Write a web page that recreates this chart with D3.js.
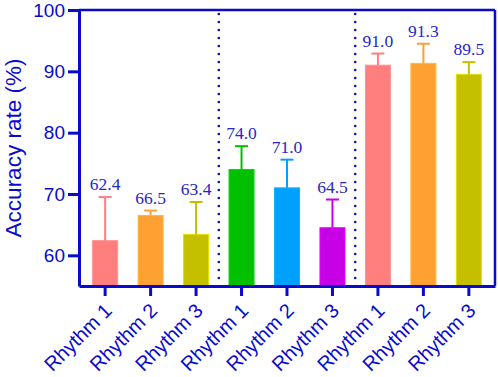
<!DOCTYPE html>
<html><head><meta charset="utf-8">
<script src="https://cdn.jsdelivr.net/npm/d3@7"></script>
<style>body{margin:0;background:#fff}svg{display:block}</style>
</head><body>
<script>
const categories = ["Rhythm 1","Rhythm 2","Rhythm 3","Rhythm 1","Rhythm 2","Rhythm 3","Rhythm 1","Rhythm 2","Rhythm 3"];
const values = [62.4, 66.5, 63.4, 74.0, 71.0, 64.5, 91.0, 91.3, 89.5];
const errors = [7.1, 0.8, 5.3, 3.8, 4.6, 4.6, 1.9, 3.2, 2.0];
const colors = ["#FF7F7F","#FFA033","#C4C000","#00C000","#00A0FF","#C800E6","#FF7F7F","#FFA033","#C4C000"];
const yTicks = [60, 70, 80, 90, 100];
const separatorsAfter = [2, 5];

const W = 498, H = 377;
const m = {l: 79, r: 3, t: 10, b: 91};
const axisColor = "#0A0ACC";
const svg = d3.select("body").append("svg").attr("width", W).attr("height", H);

const idx = d3.range(values.length);
const x = d3.scaleBand().domain(idx).range([m.l, W - m.r]).paddingInner(0.45).paddingOuter(0.3);
const y = d3.scaleLinear().domain([55, 100]).range([H - m.b, m.t]);

// bars
svg.append("g").selectAll("rect").data(idx).join("rect")
  .attr("x", i => x(i)).attr("width", x.bandwidth())
  .attr("y", i => y(values[i])).attr("height", i => y(55) - y(values[i]))
  .attr("fill", i => colors[i])
  .attr("stroke", i => d3.color(colors[i]).brighter(0.4)).attr("stroke-width", 1);

// error bars
const eb = svg.append("g");
idx.forEach(i => {
  const cx = x(i) + x.bandwidth() / 2;
  eb.append("line").attr("x1", cx).attr("x2", cx)
    .attr("y1", y(values[i])).attr("y2", y(values[i] + errors[i]))
    .attr("stroke", colors[i]).attr("stroke-width", 2);
  eb.append("line").attr("x1", cx - 6.5).attr("x2", cx + 6.5)
    .attr("y1", y(values[i] + errors[i])).attr("y2", y(values[i] + errors[i]))
    .attr("stroke", colors[i]).attr("stroke-width", 2);
});

// value labels
svg.append("g").selectAll("text").data(idx).join("text")
  .attr("x", i => x(i) + x.bandwidth() / 2)
  .attr("y", i => y(values[i] + errors[i]) - 7)
  .attr("text-anchor", "middle")
  .attr("font-family", "'Liberation Serif', 'Times New Roman', serif")
  .attr("font-size", 17.5).attr("fill", "#2626C4")
  .text(i => values[i].toFixed(1));

// separators
separatorsAfter.forEach(s => {
  const sx = (x(s) + x.bandwidth() + x(s + 1)) / 2;
  svg.append("line").attr("x1", sx).attr("x2", sx)
    .attr("y1", m.t + 4).attr("y2", H - m.b)
    .attr("stroke", axisColor).attr("stroke-width", 2.6)
    .attr("stroke-dasharray", "0,8").attr("stroke-linecap", "round");
});

// frame top & right
svg.append("line").attr("x1", m.l).attr("x2", W - m.r).attr("y1", m.t).attr("y2", m.t)
  .attr("stroke", axisColor).attr("stroke-width", 2.5);
svg.append("line").attr("x1", W - m.r).attr("x2", W - m.r).attr("y1", m.t).attr("y2", H - m.b)
  .attr("stroke", axisColor).attr("stroke-width", 2.5);

// y axis
const ya = svg.append("g").attr("transform", `translate(${m.l},0)`)
  .call(d3.axisLeft(y).tickValues(yTicks).tickSize(11).tickPadding(3).tickSizeOuter(0));
ya.select(".domain").attr("stroke", axisColor).attr("stroke-width", 3);
ya.selectAll(".tick line").attr("stroke", axisColor).attr("stroke-width", 3);
ya.selectAll(".tick text").attr("fill", axisColor)
  .attr("font-family", "'Liberation Sans', Arial, sans-serif").attr("font-size", 19);

// x axis
const xa = svg.append("g").attr("transform", `translate(0,${H - m.b})`)
  .call(d3.axisBottom(x).tickSize(10).tickSizeOuter(0).tickFormat(i => categories[i]));
xa.select(".domain").attr("stroke", axisColor).attr("stroke-width", 3);
xa.selectAll(".tick line").attr("stroke", axisColor).attr("stroke-width", 3);
xa.selectAll(".tick text").attr("fill", axisColor)
  .attr("font-family", "'Liberation Sans', Arial, sans-serif").attr("font-size", 20)
  .attr("text-anchor", "end").attr("dy", null).attr("y", 0)
  .attr("transform", "translate(8,26) rotate(-45)");

// y label
svg.append("text")
  .attr("transform", `translate(21,${(m.t + H - m.b) / 2}) rotate(-90)`)
  .attr("text-anchor", "middle").attr("fill", axisColor)
  .attr("font-family", "'Liberation Sans', Arial, sans-serif").attr("font-size", 22.5)
  .text("Accuracy rate (%)");
</script>
</body></html>
